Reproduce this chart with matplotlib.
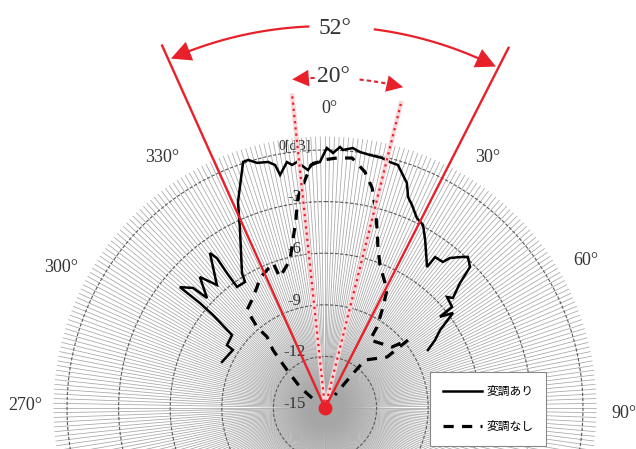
import numpy as np
import matplotlib
matplotlib.use("Agg")
import matplotlib.pyplot as plt
from matplotlib.font_manager import FontProperties

# ---------------- data ----------------
solid_angle_deg = [-65.9, -57.8, -57.3, -51.9, -50.3, -50.0, -50.2, -47.7, -47.0, -43.7,
                   -41.3, -36.6, -35.8, -36.0, -36.0, -32.4, -31.6, -25.2, -22.9, -18.4,
                   -17.2, -15.5, -13.0, -11.6, -10.9, -8.8, -7.7, -6.5, -4.1, -2.8,
                   -1.2, 0.4, 1.8, 3.3, 4.0, 6.1, 7.8, 10.1, 12.8, 14.8,
                   16.7, 18.1, 20.0, 21.5, 23.2, 25.8, 28.2, 30.8, 35.9, 36.1,
                   38.9, 39.8, 41.8, 43.4, 45.8, 47.2, 49.3, 47.7, 51.5, 51.6,
                   53.4, 55.9, 58.3, 60.6]
solid_level_db = [-8.44, -8.67, -8.23, -8.13, -6.54, -5.51, -4.02, -4.63, -5.62, -4.47,
                  -5.48, -3.78, -4.26, -5.30, -6.30, -6.32, -5.79, -3.37, -2.0, 0.08,
                  0.10, -0.21, -0.32, -0.58, -1.20, -0.53, -0.74, -0.60, -1.13, -0.74,
                  -0.70, 0.12, -0.17, 0.20, 0.04, 0.20, 0.02, -0.06, -0.09, -0.21,
                  -0.25, -0.62, -1.08, -1.82, -2.16, -2.73, -2.93, -3.63, -4.88, -4.14,
                  -4.09, -3.65, -3.23, -2.91, -3.24, -4.30, -5.19, -5.41, -5.56, -6.47,
                  -5.73, -6.92, -7.48, -8.13]

dashed_angle_deg = [-52.4, -50.0, -45.0, -43.2, -41.9, -39.2, -40.0, -38.5, -34.1, -29.3,
                    -26.6, -22.8, -19.7, -19.0, -13.3, -10.8, -8.8, -7.3, -5.0, -3.3,
                    -0.5, 2.7, 6.2, 9.6, 12.1, 14.0, 16.0, 18.2, 21.0, 27.7,
                    29.9, 32.7, 33.5, 47.7, 50.7, 50.6, 39.8, 38.9, 37.6]
dashed_level_db = [-14.05, -13.1, -11.88, -11.17, -10.47, -9.67, -8.85, -7.72, -7.42, -6.93,
                   -6.55, -6.30, -6.05, -6.95, -6.16, -5.06, -3.94, -2.63, -1.69, -0.85,
                   -0.58, -0.45, -0.38, -1.08, -1.92, -2.96, -4.05, -5.15, -6.09, -7.25,
                   -8.23, -9.40, -10.26, -9.73, -8.76, -10.33, -11.37, -12.69, -14.05]

ring_levels_db = [-12, -9, -6, -3, 0]
ring_labels = ["-15", "-12", "-9", "-6", "-3", "0[dB]"]
ring_label_levels = [-15, -12, -9, -6, -3, 0]
angle_tick_deg = [0, 30, 60, 90, 270, 300, 330]
series_labels = ["変調あり", "変調なし"]
wide_beam_deg = [-24.2, 27.0]      # 52 deg
narrow_beam_deg = [-6.0, 14.0]     # 20 deg

# ---------------- layout ----------------
W, H = 636, 449
CX, CY = 325, 41          # centre in pixels (from bottom-left)
RMIN, RMAX = -15.0, 0.8
PX_PER_DB = 258 / 15.0
RPX = (RMAX - RMIN) * PX_PER_DB

fig = plt.figure(figsize=(W / 100, H / 100), dpi=100)
ax = fig.add_axes([(CX - RPX) / W, (CY - RPX) / H, 2 * RPX / W, 2 * RPX / H],
                  projection="polar")
ax.set_theta_zero_location("N")
ax.set_theta_direction(-1)
ax.set_ylim(RMIN, RMAX)
ax.set_xticks([])
ax.set_yticks([])
ax.grid(False)
ax.spines["polar"].set_visible(False)
ax.patch.set_alpha(0)

serif = "Liberation Serif"
red = "#e8202a"

# dense radial grid (every 1 deg)
th = np.deg2rad(np.arange(0, 360, 1.0))
ax.vlines(th, RMIN, RMAX, colors="#a6a6a6", lw=0.55, zorder=1)

# rings
tt = np.linspace(0, 2 * np.pi, 1441)
for lv in ring_levels_db:
    ax.plot(tt, np.full_like(tt, lv), color="#5a5a5a", lw=0.8, ls=(0, (3, 1.5)), zorder=2)

# ring labels
for lab, lv in zip(ring_labels, ring_label_levels):
    fs = 10 if lab.startswith("0") else 12
    ax.annotate(lab, xy=(0, lv), xytext=(-22, 3), textcoords="offset points",
                ha="center", va="center", fontsize=fs, family=serif,
                color="#333333", zorder=3, annotation_clip=False)

# angle labels
label_place = {0: 0.8, 30: 33.0, 60: 60.5, 90: 91.0, 270: -89.5, 300: -62.0, 330: -33.0}
for a in angle_tick_deg:
    ax.text(np.deg2rad(label_place[a]), 2.4, f"{a}°", ha="center", va="center",
            fontsize=13, family=serif, color="#333333")

# data curves
l1, = ax.plot(np.deg2rad(solid_angle_deg), solid_level_db, color="black", lw=1.8,
              zorder=5, solid_joinstyle="miter")
l2, = ax.plot(np.deg2rad(dashed_angle_deg), dashed_level_db, color="black", lw=2.3,
              ls=(0, (3.2, 2.6)), zorder=5)

# red annotation: 52 deg lines
wide_end = [8.1, 8.5]
for a, re in zip(wide_beam_deg, wide_end):
    ax.plot(np.deg2rad([a, a]), [RMIN, re], color=red, lw=1.7, clip_on=False, zorder=7)

# 20 deg dotted lines
for a in narrow_beam_deg:
    ax.plot(np.deg2rad([a, a]), [RMIN, 3.4], color="#fad4d6", lw=3.2, clip_on=False,
            zorder=6, solid_capstyle="butt")
    ax.plot(np.deg2rad([a, a]), [RMIN, 3.4], color=red, lw=1.6, ls=(0, (1.0, 1.8)),
            clip_on=False, zorder=7)

# arcs
def arc(a0, a1, r, **kw):
    t = np.deg2rad(np.linspace(a0, a1, 60))
    ax.plot(t, np.full_like(t, r), clip_on=False, **kw)

def head(tip_deg, back_deg, r, ms):
    ax.annotate("", xy=(np.deg2rad(tip_deg), r), xytext=(np.deg2rad(back_deg), r),
                arrowprops=dict(arrowstyle="-|>,head_length=0.6,head_width=0.3",
                                color=red, lw=0, shrinkA=0, shrinkB=0,
                                mutation_scale=ms),
                annotation_clip=False, zorder=8)

R52 = 7.2
arc(-2.5, -21.0, R52, color=red, lw=1.6, zorder=7)
arc(7.5, 24.0, R52, color=red, lw=1.6, zorder=7)
head(wide_beam_deg[0] + 0.4, -20.0, R52, 24)
head(wide_beam_deg[1] - 0.4, 23.0, R52, 24)
ax.text(np.deg2rad(1.5), 7.1, "52°", ha="center", va="center", fontsize=17,
        family=serif, color="#333333")

R20 = 4.2
arc(-1.8, -3.6, R20, color=red, lw=1.5, ls=(0, (2, 1.5)), zorder=7)
arc(6.0, 11.5, R20, color=red, lw=1.5, ls=(0, (2, 1.5)), zorder=7)
head(narrow_beam_deg[0] + 0.3, -3.0, R20, 20)
head(narrow_beam_deg[1] - 0.3, 11.0, R20, 20)
ax.text(np.deg2rad(1.4), 4.25, "20°", ha="center", va="center", fontsize=17,
        family=serif, color="#333333")

# centre dot
ax.plot([0], [RMIN], "o", color=red, ms=9, clip_on=False, zorder=9)

# legend
leg = ax.legend([l1, l2], series_labels, loc="upper left",
                bbox_to_anchor=(430 / W, 1 - 372 / H), bbox_transform=fig.transFigure,
                prop=FontProperties(family="Noto Sans CJK JP", size=8.5),
                frameon=True, fancybox=False, framealpha=1, edgecolor="#888888",
                handlelength=3.3, handletextpad=0.35, labelspacing=1.9,
                borderpad=1.1, borderaxespad=0)
leg.get_frame().set_linewidth(0.8)
leg.set_zorder(20)

fig.savefig("out.png", dpi=100, facecolor="white")
